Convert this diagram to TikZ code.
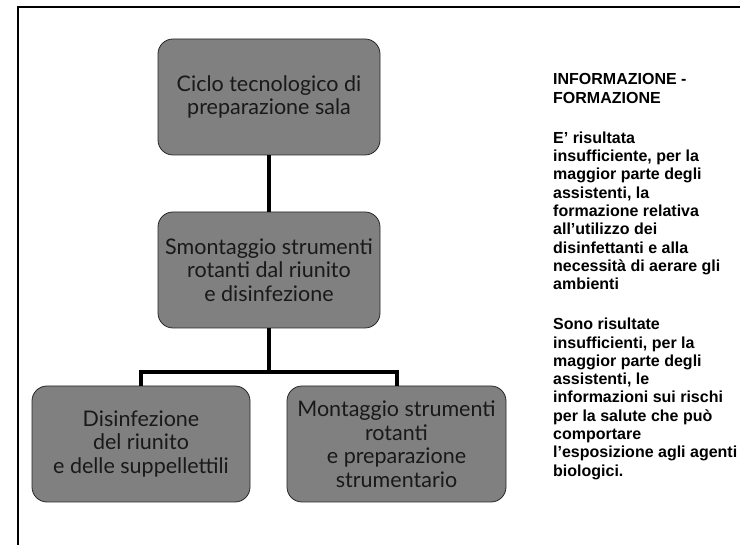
\documentclass[tikz,border=0pt]{standalone}
\usepackage{fontspec}
\newfontfamily\boxfont{Lato}
\newfontfamily\notefont{Liberation Sans}
\begin{document}
\begin{tikzpicture}[x=1pt,y=-1pt,
  stepbox/.style={draw=black!85, line width=0.8pt, fill=black!50, rounded corners=15pt,
    align=center, inner sep=0pt, minimum height=116pt,
    font=\boxfont\fontsize{21.5}{23.5}\selectfont, text=black!90},
  link/.style={line width=4pt, draw=black},
  note/.style={anchor=north west, inner sep=0pt, align=left,
    font=\notefont\bfseries\fontsize{16}{18.3}\selectfont}]
\useasboundingbox (0,0) rectangle (740,545);
\draw[line width=2pt] (18,545) -- (18,7) -- (740,7);
\node[stepbox, minimum width=222pt] (top) at (269,97) {Ciclo tecnologico di\\preparazione sala};
\node[stepbox, minimum width=222pt] (mid) at (269,270) {Smontaggio strumenti\\rotanti dal riunito\\e disinfezione};
\node[stepbox, minimum width=218pt] (bl) at (141,444) {Disinfezione\\del riunito\\e delle suppellettili};
\node[stepbox, minimum width=219pt] (br) at (396.5,444) {Montaggio strumenti\\rotanti\\e preparazione\\strumentario};
\coordinate (bar) at (269,372);
\draw[link] (top.south) -- (mid.north);
\draw[link] (mid.south) -- (bar);
\draw[link] (bl.north) |- (bar) -| (br.north);
\node[note] (head) at (553,73.5) {INFORMAZIONE -\\FORMAZIONE};
\node[note] (p1) at (553,131.5) {E’ risultata\\insufficiente, per la\\maggior parte degli\\assistenti, la\\formazione relativa\\all’utilizzo dei\\disinfettanti e alla\\necessità di aerare gli\\ambienti};
\node[note] (p2) at (553,318) {Sono risultate\\insufficienti, per la\\maggior parte degli\\assistenti, le\\informazioni sui rischi\\per la salute che può\\comportare\\l’esposizione agli agenti\\biologici.};
\end{tikzpicture}
\end{document}
